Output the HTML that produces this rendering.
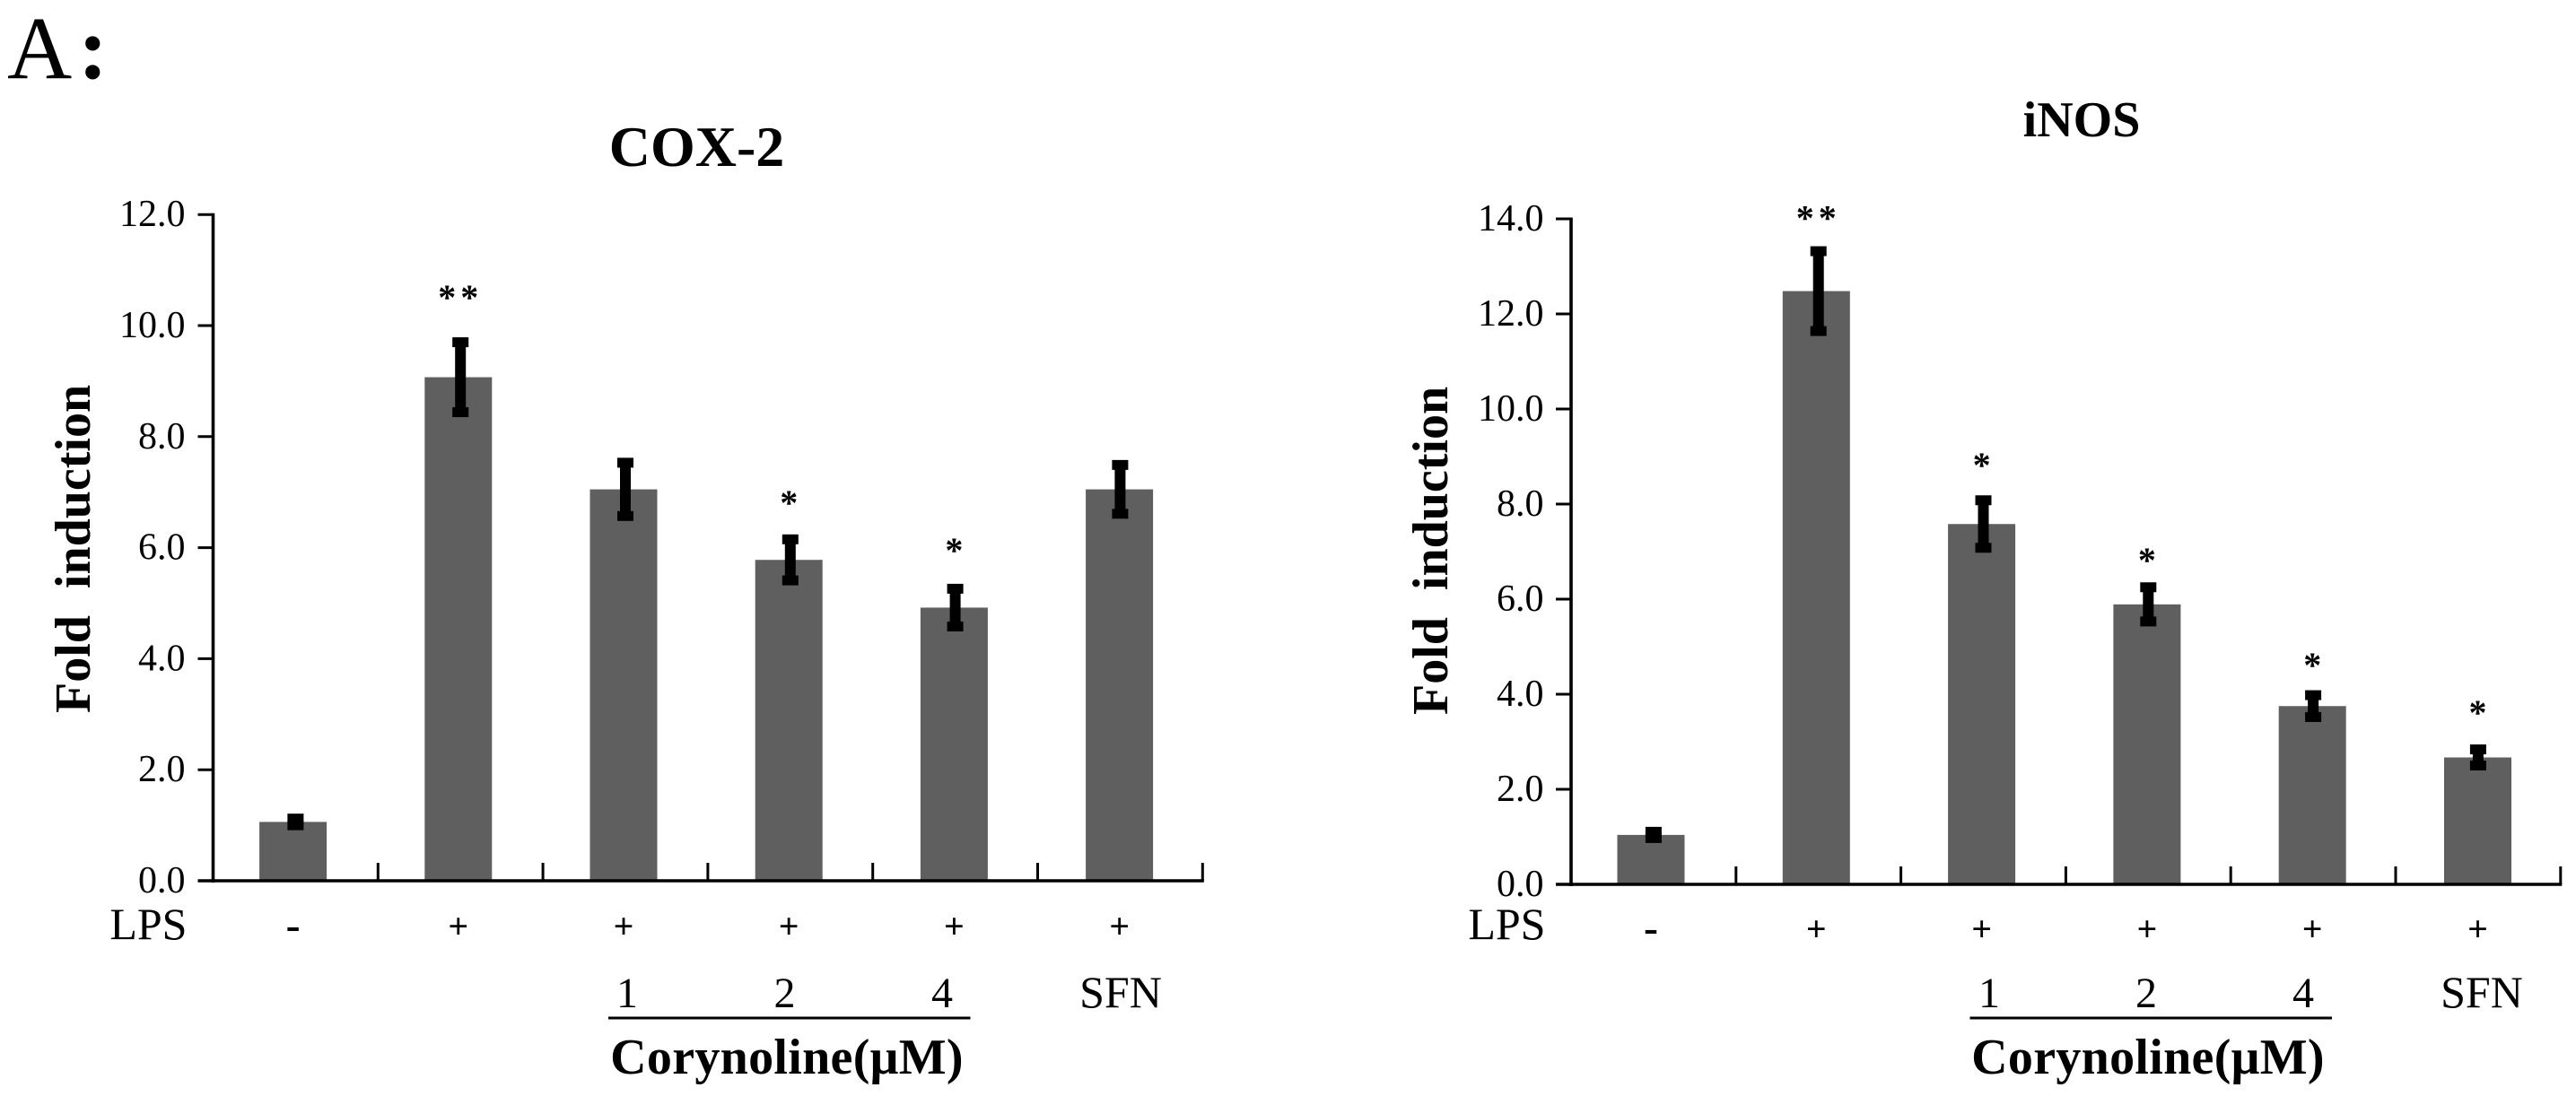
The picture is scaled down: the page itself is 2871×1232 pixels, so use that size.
<!DOCTYPE html>
<html lang="en">
<head>
<meta charset="utf-8">
<title>COX-2 and iNOS fold induction</title>
<style>
  html, body { margin: 0; padding: 0; background: #fff; }
  body { width: 2871px; height: 1232px; overflow: hidden; }
  svg { display: block; }
  text { font-family: "Liberation Serif", serif; fill: #000; }
  .bold { font-weight: bold; }
</style>
</head>
<body>
<svg id="figure" xmlns="http://www.w3.org/2000/svg" width="2871" height="1232" viewBox="0 0 2871 1232">
  <rect x="0" y="0" width="2871" height="1232" fill="#ffffff"/>
  <text x="8" y="87" font-size="100">A<tspan class="bold" x="87">:</tspan></text>
  <g id="chart-cox2"></g>
  <g id="chart-inos"></g>
</svg>
<script>
// Shared categories and axis labels
const lpsLabels = ['-', '+', '+', '+', '+', '+'];
const doseLabels = ['1', '2', '4'];
const positiveControlLabel = 'SFN';

// COX-2 data
const cox2Values = [1.06, 9.07, 7.05, 5.78, 4.92, 7.05];
const cox2Errors = [0.06, 0.63, 0.48, 0.37, 0.34, 0.44];
const cox2Stars = ['', '**', '', '*', '*', ''];
const cox2StarLevels = [0, 10.6, 0, 6.9, 6.04, 0];
const cox2YTicks = [0, 2, 4, 6, 8, 10, 12];
const cox2YTickLabels = ['0.0', '2.0', '4.0', '6.0', '8.0', '10.0', '12.0'];

// iNOS data
const inosValues = [1.04, 12.48, 7.58, 5.89, 3.75, 2.67];
const inosErrors = [0.066, 0.84, 0.5, 0.36, 0.23, 0.17];
const inosStars = ['', '**', '*', '*', '*', '*'];
const inosStarLevels = [0, 14.12, 8.92, 6.92, 4.72, 3.72];
const inosYTicks = [0, 2, 4, 6, 8, 10, 12, 14];
const inosYTickLabels = ['0.0', '2.0', '4.0', '6.0', '8.0', '10.0', '12.0', '14.0'];

const NS = 'http://www.w3.org/2000/svg';

function mk(tag, attrs, parent, txt) {
  const el = document.createElementNS(NS, tag);
  for (const k in attrs) el.setAttribute(k, attrs[k]);
  if (txt !== undefined) el.textContent = txt;
  parent.appendChild(el);
  return el;
}

function drawChart(root, cfg, values, errors, stars, starLevels, yTicks, yTickLabels) {
  const yScale = v => cfg.y0 - v * cfg.unit;
  const tickX = i => cfg.x0 + cfg.step * i;
  const midX = i => tickX(i) + cfg.step / 2;
  const barX = i => cfg.barStart + cfg.barStep * i;
  const xEnd = tickX(values.length);
  const yMax = yTicks[yTicks.length - 1];
  let el;

  // title
  el = mk('text', { x: cfg.titleX, y: cfg.titleY, 'font-size': cfg.titleSize, 'text-anchor': 'middle', class: 'bold' }, root, cfg.title);
  
  

  // y axis title
  el = mk('text', { x: cfg.yTitleX, y: cfg.yTitleY, 'font-size': 56, class: 'bold', 'word-spacing': 16, transform: 'rotate(-90 ' + cfg.yTitleX + ' ' + cfg.yTitleY + ')' }, root, 'Fold induction');
  
  

  // bars
  values.forEach((v, i) => {
    const top = yScale(v);
    const b = mk('rect', { x: barX(i) - 37.5, y: top, width: 75, height: cfg.y0 - top, fill: '#5f5f5f' }, root);
    
    
  });

  // y axis line and ticks
  el = mk('line', { x1: cfg.x0, x2: cfg.x0, y1: yScale(yMax) - 1.5, y2: cfg.y0 + 2, stroke: '#000', 'stroke-width': 3.6 }, root);
  
  
  yTicks.forEach((t, i) => {
    const y = yScale(t);
    const tk = mk('line', { x1: cfg.x0 - 17, x2: cfg.x0, y1: y, y2: y, stroke: '#000', 'stroke-width': t === 0 ? 3.6 : 3 }, root);
    
    
    const lb = mk('text', { x: cfg.tickLabelX, y: y + 13, 'font-size': 42, 'text-anchor': 'end', fill: '#111' }, root, yTickLabels[i]);
    
    
  });

  // x axis line and ticks
  el = mk('line', { x1: cfg.x0, x2: xEnd + 1.5, y1: cfg.y0, y2: cfg.y0, stroke: '#000', 'stroke-width': 3.6 }, root);
  
  
  values.forEach((v, i) => {
    const tk = mk('line', { x1: tickX(i + 1), x2: tickX(i + 1), y1: cfg.y0 - 20, y2: cfg.y0, stroke: '#000', 'stroke-width': 3 }, root);
    
    
  });

  // error bars
  values.forEach((v, i) => {
    const cx = midX(i);
    const hi = yScale(v + errors[i]);
    const lo = yScale(v - errors[i]);
    const g = mk('g', { fill: '#000' }, root);
    
    
    mk('rect', { x: cx - 6, y: hi, width: 12, height: lo - hi }, g);
    mk('rect', { x: cx - 9, y: hi - 5.5, width: 18, height: 11 }, g);
    mk('rect', { x: cx - 9, y: lo - 5.5, width: 18, height: 11 }, g);
  });

  // significance stars
  stars.forEach((s, i) => {
    if (!s) return;
    const st = mk('text', { x: barX(i) + 2.5, y: yScale(starLevels[i]) + 19, 'font-size': 40, 'text-anchor': 'middle', 'letter-spacing': 5, 'font-weight': 'bold', fill: '#222' }, root, s);
    
    
  });

  // LPS row
  el = mk('text', { x: cfg.tickLabelX + 2, y: 1047, 'font-size': 50, 'text-anchor': 'end' }, root, 'LPS');
  
  
  lpsLabels.forEach((s, i) => {
    const isPlus = s === '+';
    const base = cfg.lpsY + (isPlus ? 10 : 11);
    const lb = mk('text', { x: barX(i), y: base, 'font-size': isPlus ? 40 : 48, 'text-anchor': 'middle', 'font-weight': 'bold' }, root, s);
    
    
  });

  // dose row
  doseLabels.forEach((s, i) => {
    const lb = mk('text', { x: cfg.doseStart + cfg.doseStep * i, y: 1123, 'font-size': 48, 'text-anchor': 'middle' }, root, s);
    
    
  });
  el = mk('text', { x: cfg.sfnX, y: 1123, 'font-size': 50, 'text-anchor': 'middle' }, root, positiveControlLabel);
  
  

  // dose bracket line and caption
  el = mk('line', { x1: cfg.ruleX1, x2: cfg.ruleX2, y1: 1135, y2: 1135, stroke: '#000', 'stroke-width': 3 }, root);
  
  
  el = mk('text', { x: cfg.captionX, y: 1197, 'font-size': 56, 'text-anchor': 'middle', 'letter-spacing': 0.3, class: 'bold' }, root, 'Corynoline(\u03BCM)');
  
  
}

drawChart(document.getElementById('chart-cox2'), {
  title: 'COX-2', titleX: 776.5, titleY: 185, titleSize: 64,
  yTitleX: 100, yTitleY: 795,
  x0: 237.5, y0: 982, unit: 61.9, step: 183.8,
  barStart: 326.6, barStep: 184.2,
  tickLabelX: 206.5, lpsY: 1036,
  doseStart: 699, doseStep: 175.5, sfnX: 1249,
  ruleX1: 678, ruleX2: 1081.5, captionX: 877
}, cox2Values, cox2Errors, cox2Stars, cox2StarLevels, cox2YTicks, cox2YTickLabels);

drawChart(document.getElementById('chart-inos'), {
  title: 'iNOS', titleX: 2320, titleY: 152, titleSize: 56,
  yTitleX: 1613, yTitleY: 797,
  x0: 1751, y0: 986, unit: 53, step: 183.8,
  barStart: 1840, barStep: 184.3,
  tickLabelX: 1720.5, lpsY: 1039,
  doseStart: 2217, doseStep: 175, sfnX: 2766,
  ruleX1: 2195.5, ruleX2: 2599, captionX: 2394
}, inosValues, inosErrors, inosStars, inosStarLevels, inosYTicks, inosYTickLabels);
</script>
</body>
</html>
